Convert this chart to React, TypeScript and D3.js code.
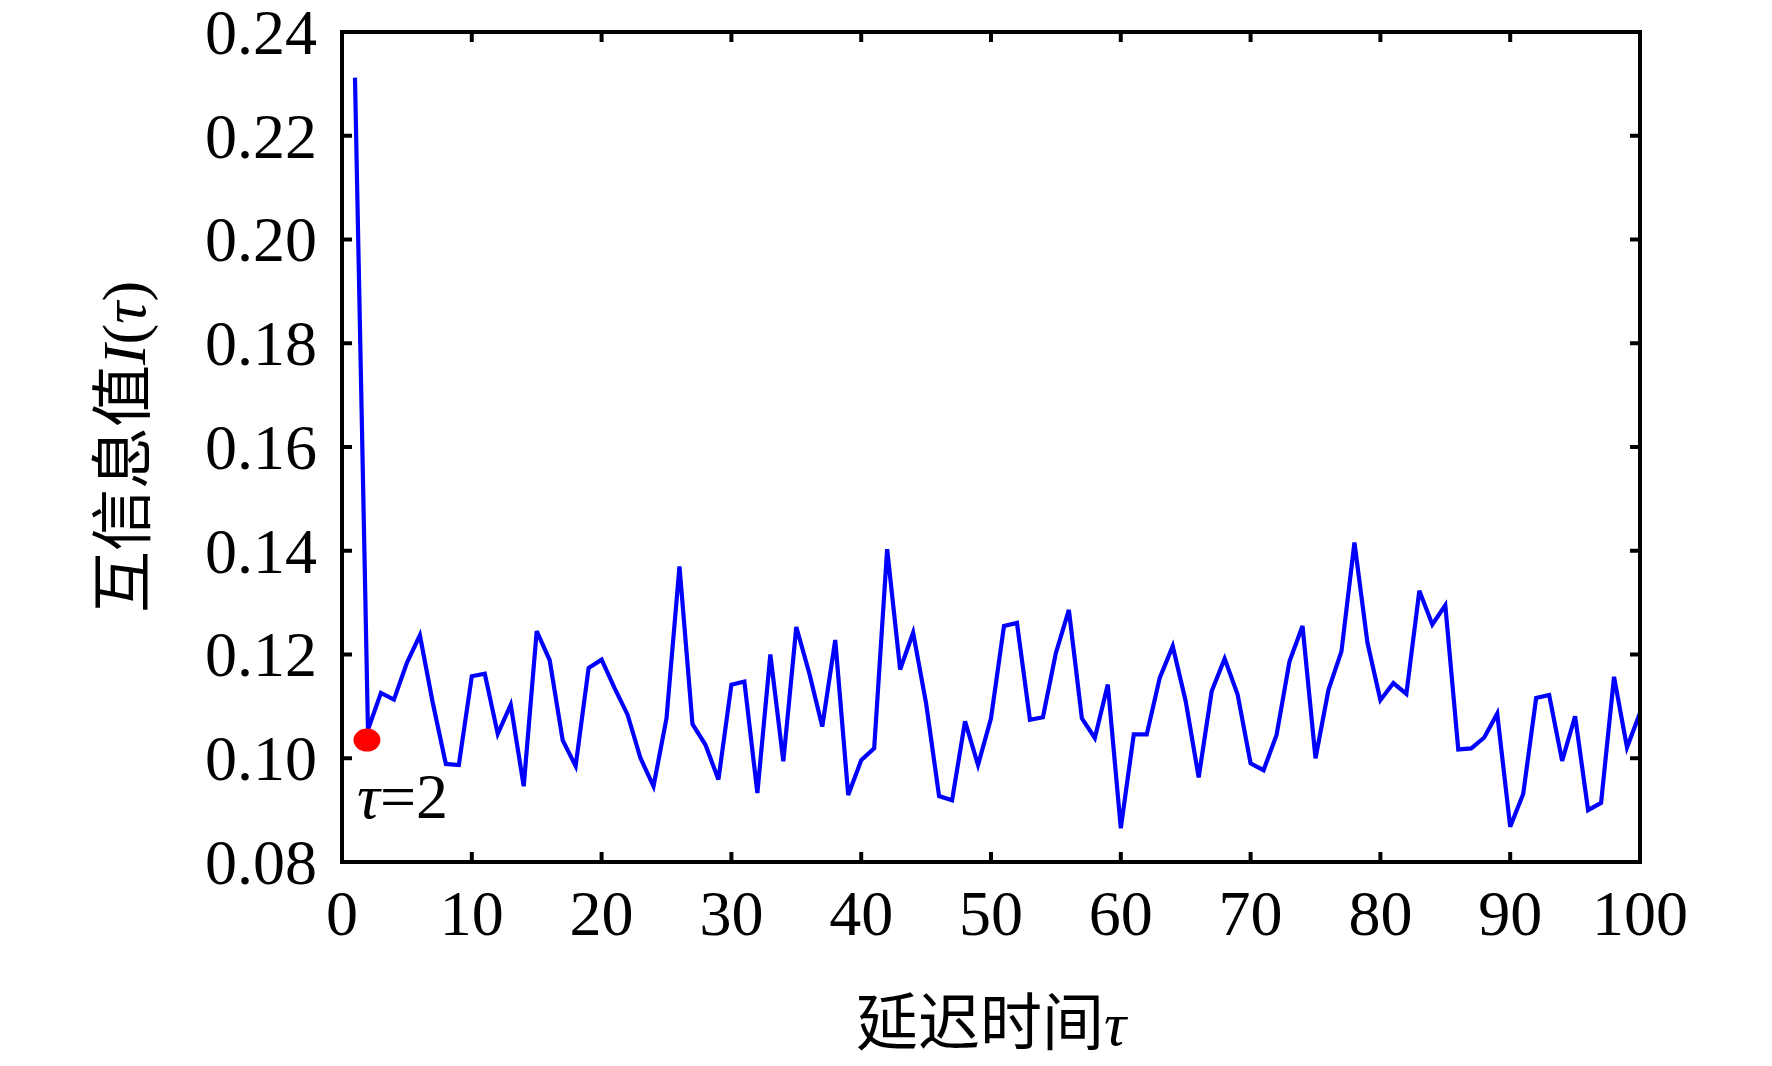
import { useEffect } from 'react';
import * as d3 from 'd3';

// mutual information I(tau) for tau = 1..100
const lags = d3.range(1, 101);
const miValues = [
  0.2312, 0.1055, 0.1126, 0.1113, 0.1184, 0.1237, 0.1106, 0.0989, 0.0987, 0.1158,
  0.1163, 0.1047, 0.1103, 0.0946, 0.1245, 0.1189, 0.1035, 0.0985, 0.1174, 0.1190,
  0.1135, 0.1084, 0.1000, 0.0946, 0.1077, 0.1370, 0.1066, 0.1026, 0.0959, 0.1142,
  0.1148, 0.0933, 0.1200, 0.0994, 0.1253, 0.1164, 0.1061, 0.1228, 0.0929, 0.0996,
  0.1019, 0.1403, 0.1171, 0.1242, 0.1106, 0.0927, 0.0919, 0.1071, 0.0987, 0.1077,
  0.1255, 0.1261, 0.1074, 0.1079, 0.1203, 0.1286, 0.1077, 0.1039, 0.1142, 0.0865,
  0.1046, 0.1046, 0.1155, 0.1216, 0.1110, 0.0963, 0.1129, 0.1192, 0.1123, 0.0990,
  0.0977, 0.1045, 0.1187, 0.1255, 0.1000, 0.1132, 0.1206, 0.1416, 0.1223, 0.1112,
  0.1145, 0.1124, 0.1323, 0.1258, 0.1295, 0.1017, 0.1019, 0.1040, 0.1086, 0.0868,
  0.0931, 0.1116, 0.1122, 0.0995, 0.1081, 0.0900, 0.0914, 0.1157, 0.1021, 0.1087,
];
const xTicks = [0, 10, 20, 30, 40, 50, 60, 70, 80, 90, 100];
const yTicks = [0.08, 0.1, 0.12, 0.14, 0.16, 0.18, 0.2, 0.22, 0.24];
const marked = { lag: 2, value: 0.1035, label: '2' };

const W = 1772;
const H = 1066;
const margin = { top: 32, right: 132, bottom: 204, left: 342 };
const serif = '"Liberation Serif", "Times New Roman", serif';
const cjk = '"Noto Sans CJK SC", sans-serif';

export default function App() {
  useEffect(() => {
    document.body.style.margin = '0';
  }, []);

  const x = d3.scaleLinear().domain([0, 100]).range([margin.left, W - margin.right]);
  const y = d3.scaleLinear().domain([0.08, 0.24]).range([H - margin.bottom, margin.top]);

  const line = d3.line<number>()
    .x((_, i) => x(lags[i]))
    .y(d => y(d));

  const x0 = x.range()[0];
  const x1 = x.range()[1];
  const y0 = y.range()[0];
  const y1 = y.range()[1];
  const tickLen = 10;

  return (
    <svg width={W} height={H} style={{ display: 'block', background: '#fff' }}>
      {/* data line */}
      <path d={line(miValues) || ''} fill="none" stroke="#0000ff" strokeWidth={4.2} strokeLinejoin="miter" />

      {/* marked point */}
      <ellipse cx={x(marked.lag) - 1} cy={y(marked.value)} rx={13.5} ry={11.5} fill="#ff0000" />
      <text x={357} y={818} fontFamily={serif} fontSize={64} fill="#000">
        <tspan fontStyle="italic">τ</tspan>={marked.label}
      </text>

      {/* ticks, inward on all sides */}
      {xTicks.map(t => (
        <g key={'x' + t}>
          <line x1={x(t)} x2={x(t)} y1={y0} y2={y0 - tickLen} stroke="#000" strokeWidth={4} />
          <line x1={x(t)} x2={x(t)} y1={y1} y2={y1 + tickLen} stroke="#000" strokeWidth={4} />
          <text x={x(t)} y={935} textAnchor="middle" fontFamily={serif} fontSize={64} fill="#000">
            {t}
          </text>
        </g>
      ))}
      {yTicks.map(t => (
        <g key={'y' + t}>
          <line x1={x0} x2={x0 + tickLen} y1={y(t)} y2={y(t)} stroke="#000" strokeWidth={4} />
          <line x1={x1} x2={x1 - tickLen} y1={y(t)} y2={y(t)} stroke="#000" strokeWidth={4} />
          <text x={x0 - 25} y={y(t)} dy="0.34em" textAnchor="end" fontFamily={serif} fontSize={64} fill="#000">
            {t.toFixed(2)}
          </text>
        </g>
      ))}

      {/* frame */}
      <rect x={x0} y={y1} width={x1 - x0} height={y0 - y1} fill="none" stroke="#000" strokeWidth={4} />

      {/* axis titles */}
      <text x={(x0 + x1) / 2} y={1045} textAnchor="middle" fontSize={62} fill="#000">
        <tspan fontFamily={cjk}>延迟时间</tspan>
        <tspan fontFamily={serif} fontStyle="italic">τ</tspan>
      </text>
      <text
        transform={`translate(145,${(y0 + y1) / 2}) rotate(-90)`}
        textAnchor="middle"
        fontSize={62}
        fill="#000"
      >
        <tspan fontFamily={cjk}>互信息值</tspan>
        <tspan fontFamily={serif} fontStyle="italic">I</tspan>
        <tspan fontFamily={serif}>(</tspan>
        <tspan fontFamily={serif} fontStyle="italic">τ</tspan>
        <tspan fontFamily={serif}>)</tspan>
      </text>
    </svg>
  );
}
